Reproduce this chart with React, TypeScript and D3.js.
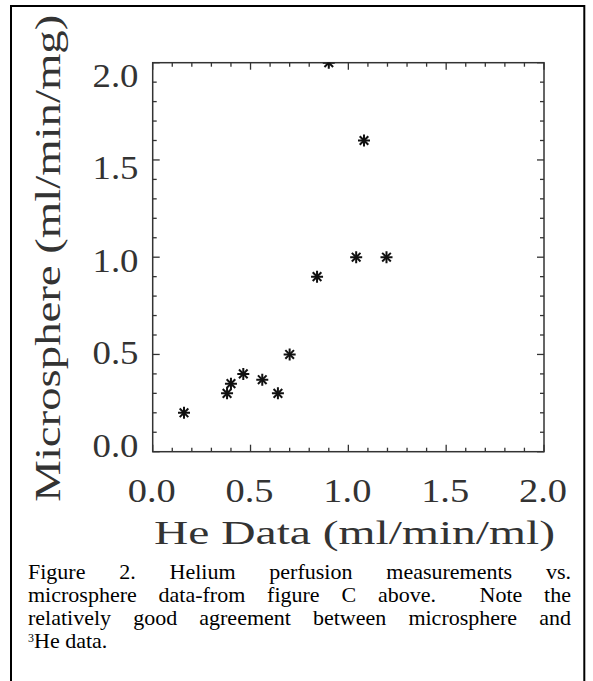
import React from "react";
import * as d3 from "d3";

// values
const heData = [0.16, 0.38, 0.40, 0.463, 0.56, 0.64, 0.70, 0.84, 0.90, 1.04, 1.08, 1.195];
const microData = [0.20, 0.30, 0.35, 0.40, 0.37, 0.30, 0.50, 0.90, 2.00, 1.00, 1.60, 1.00];
const tickValues = [0, 0.5, 1.0, 1.5, 2.0];
const minorValues = d3.range(0, 21).map((i) => i / 10);
const xTitle = "He Data (ml/min/ml)";
const yTitle = "Microsphere (ml/min/mg)";
const captionLines = [
  "Figure 2. Helium perfusion measurements vs.",
  "microsphere data-from figure C above.  Note the",
  "relatively good agreement between microsphere and",
];
const lastLine = "He data.";

const W = 593, H = 681;
const plot = { left: 152.7, right: 544, top: 62.7, bottom: 451.7 };
const axisFont = "Liberation Serif, serif";
const capFont = "Liberation Serif, serif";
const capSize = 22;
const lineGap = 23;
const ink = "#333";

let ctx: CanvasRenderingContext2D | null = null;
const measure = (s: string) => {
  if (!ctx) ctx = document.createElement("canvas").getContext("2d");
  ctx!.font = `${capSize}px "Liberation Serif", serif`;
  return ctx!.measureText(s).width;
};

// justify one line: words spread between left and right, gaps weighted by their space count
const justify = (line: string, left: number, right: number) => {
  const parts = line.split(/( +)/);
  const words: string[] = [];
  const gaps: number[] = [];
  parts.forEach((p, i) => (i % 2 === 0 ? words.push(p) : gaps.push(p.length)));
  const widths = words.map(measure);
  const free = right - left - d3.sum(widths);
  const unit = free / d3.sum(gaps);
  let x = left;
  return words.map((w, i) => {
    const out = { w, x };
    x += widths[i] + (gaps[i] || 0) * unit;
    return out;
  });
};

const Star = ({ cx, cy }: { cx: number; cy: number }) => {
  const r = 6, d = r * 0.72;
  return (
    <g stroke="#111" strokeWidth={2}>
      <line x1={cx - r} y1={cy} x2={cx + r} y2={cy} />
      <line x1={cx} y1={cy - r} x2={cx} y2={cy + r} />
      <line x1={cx - d} y1={cy - d} x2={cx + d} y2={cy + d} />
      <line x1={cx - d} y1={cy + d} x2={cx + d} y2={cy - d} />
    </g>
  );
};

export default function App() {
  const x = d3.scaleLinear().domain([0, 2]).range([plot.left, plot.right]);
  const y = d3.scaleLinear().domain([0, 2]).range([plot.bottom, plot.top]);
  // the y tick labels sit on a slightly tighter spacing than the ticks in the figure
  const yLab = d3.scaleLinear().domain([0, 2]).range([446, 76]);
  const fmt = d3.format(".1f");
  const isMajor = (v: number) => Math.abs(v * 2 - Math.round(v * 2)) < 1e-6;

  return (
    <div style={{ position: "absolute", left: 0, top: 0 }}>
      <svg width={W} height={H} style={{ display: "block", background: "#fff" }}>
        <rect x={11} y={6} width={573.3} height={700} fill="none" stroke="#000" strokeWidth={2} />

        <defs>
          <clipPath id="plotClip">
            <rect x={plot.left} y={plot.top} width={plot.right - plot.left} height={plot.bottom - plot.top} />
          </clipPath>
        </defs>

        {/* box */}
        <rect x={plot.left} y={plot.top} width={plot.right - plot.left} height={plot.bottom - plot.top}
          fill="none" stroke={ink} strokeWidth={1.5} />

        {/* ticks, inward on all four sides */}
        <g stroke={ink} strokeWidth={1.3}>
          {minorValues.map((v) => {
            const len = isMajor(v) ? 7 : 4;
            return (
              <g key={v}>
                <line x1={x(v)} x2={x(v)} y1={plot.bottom} y2={plot.bottom - len} />
                <line x1={x(v)} x2={x(v)} y1={plot.top} y2={plot.top + len} />
                <line y1={y(v)} y2={y(v)} x1={plot.left} x2={plot.left + len} />
                <line y1={y(v)} y2={y(v)} x1={plot.right} x2={plot.right - len} />
              </g>
            );
          })}
        </g>

        {/* tick labels */}
        <g fontFamily={axisFont} fontSize={33} fill={ink}>
          {tickValues.map((v) => (
            <text key={"x" + v} x={x(v) - 1} y={501.5} textAnchor="middle"
              textLength={48} lengthAdjust="spacingAndGlyphs">{fmt(v)}</text>
          ))}
          {tickValues.map((v) => (
            <text key={"y" + v} x={138.5} y={yLab(v)} dy="0.33em" textAnchor="end"
              textLength={46} lengthAdjust="spacingAndGlyphs">{fmt(v)}</text>
          ))}
        </g>

        {/* axis titles */}
        <text x={154} y={544} fontFamily={axisFont} fontSize={34} fill={ink}
          textLength={401} lengthAdjust="spacingAndGlyphs">{xTitle}</text>
        <text transform="translate(60,501.7) rotate(-90)" fontFamily={axisFont} fontSize={36} fill={ink}
          textLength={487} lengthAdjust="spacingAndGlyphs">{yTitle}</text>

        {/* points */}
        <g clipPath="url(#plotClip)">
          {heData.map((v, i) => (
            <Star key={i} cx={x(v)} cy={y(microData[i])} />
          ))}
        </g>

        {/* caption */}
        <g fontFamily={capFont} fontSize={capSize} fill="#000">
          {captionLines.map((line, li) =>
            justify(line, 28, 571).map((p, wi) => (
              <text key={li + "-" + wi} x={p.x} y={579 + li * lineGap}>{p.w}</text>
            ))
          )}
          <text x={28} y={579 + 3 * lineGap}>
            <tspan fontSize={12} dy={-6}>3</tspan>
            <tspan dy={6}>{lastLine}</tspan>
          </text>
        </g>
      </svg>
    </div>
  );
}
